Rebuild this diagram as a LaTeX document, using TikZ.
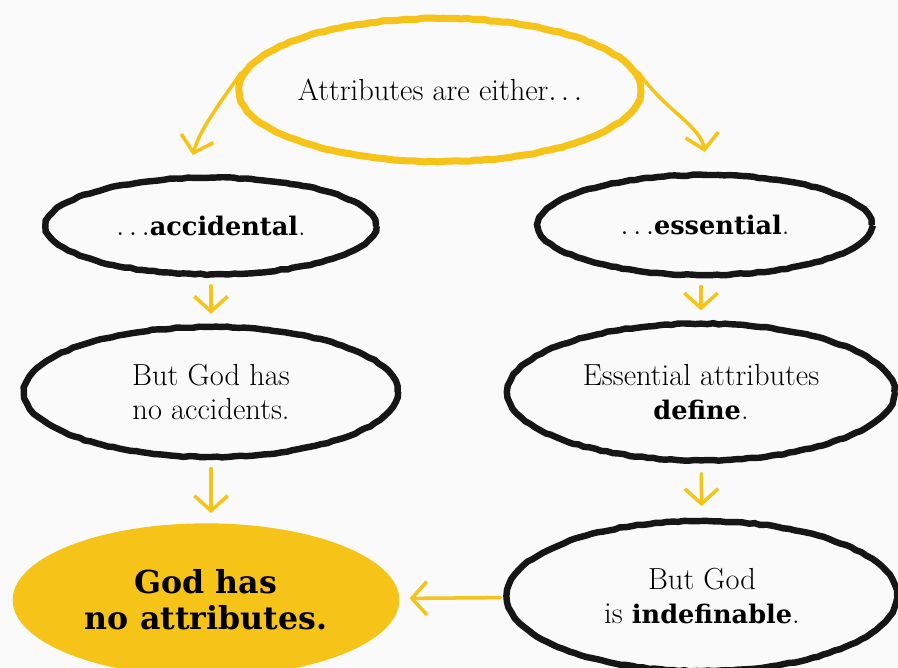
\documentclass[tikz,border=0pt]{standalone}
\usepackage{fontspec}
\usepackage{tikz}
\usetikzlibrary{shapes.geometric,arrows.meta,decorations.pathmorphing}
\newfontfamily\slab{DejaVu Serif}[Scale=0.84]
\newfontfamily\slabhead{DejaVu Serif}
\definecolor{gold}{HTML}{F6C419}
\definecolor{paper}{HTML}{FAFAFA}
\definecolor{ink}{HTML}{161616}
\newcommand{\keyword}[1]{{\slab\bfseries #1}}

\begin{document}
\begin{tikzpicture}[
        x=0.03cm, y=-0.03cm,
        >={Straight Barb[length=0.45cm, width=1cm]},
        bubble/.style={ellipse, draw=ink, line width=5.5pt, inner sep=0pt, align=center,
            font=\fontsize{26}{29}\selectfont,
            decorate, decoration={random steps, segment length=5pt, amplitude=0.5pt}},
        start/.style={bubble, draw=gold, line width=6pt},
        verdict/.style={ellipse, fill=gold, inner sep=0pt, align=center,
            font=\slabhead\bfseries\fontsize{27}{31}\selectfont},
        flow/.style={->, draw=gold, line width=3pt, line cap=round}
    ]
        % Papier
        \fill[paper] (0,0) rectangle (898,667);
        \useasboundingbox (0,0) rectangle (898,667);

        % Knoten
        \node[start, minimum width=11.9cm, minimum height=4.3cm] (either) at (440,90) {Attributes are either$\ldots$};
        \node[bubble, minimum width=9.9cm, minimum height=2.9cm] (acc) at (211,226) {$\ldots$\keyword{accidental}.};
        \node[bubble, minimum width=10cm, minimum height=3cm] (ess) at (705,225) {$\ldots$\keyword{essential}.};
        \node[bubble, minimum width=11.2cm, minimum height=3.9cm] (noacc) at (211,392) {But God has\\no accidents.};
        \node[bubble, minimum width=11.6cm, minimum height=4.1cm] (define) at (701,392) {Essential attributes\\\keyword{define}.};
        \node[verdict, minimum width=11.6cm, minimum height=4.6cm] (answer) at (206,600) {God has\\no attributes.};
        \node[bubble, minimum width=11.7cm, minimum height=4.5cm] (indef) at (702,596) {But God\\is \keyword{indefinable}.};

        % Pfeile
        \draw[flow, shorten >=0.6cm] (either.175) to[out=235, in=75] ([xshift=-0.7cm]acc.north);
        \draw[flow, shorten >=0.6cm] (either.5) to[out=-55, in=100] ([xshift=0.1cm]ess.north);
        \draw[flow, shorten <=0.25cm, shorten >=0.3cm] (acc) -- (noacc);
        \draw[flow, shorten <=0.25cm, shorten >=0.3cm] (noacc.south) -- (noacc.south |- answer.north);
        \draw[flow, shorten <=0.25cm, shorten >=0.3cm] (ess.south -| define) -- (define);
        \draw[flow, shorten <=0.3cm, shorten >=0.35cm] (define) -- (indef);
        \draw[flow, shorten <=0.1cm, shorten >=0.3cm] (indef) -- (answer);
    \end{tikzpicture}
\end{document}
